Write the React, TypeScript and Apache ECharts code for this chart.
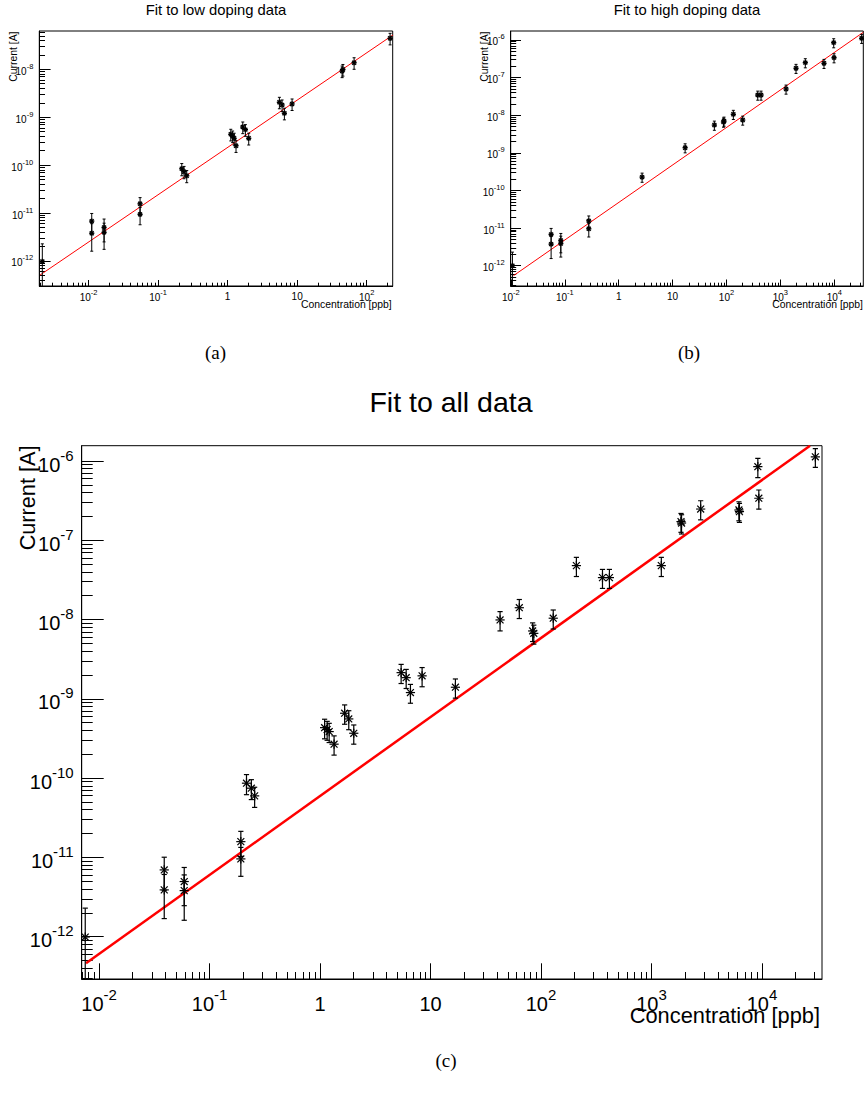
import React, { useEffect, useRef } from "react";
import * as echarts from "echarts";

// ---------- Panel (a): fit to low doping data ----------
const lowConc = [0.00216, 0.0111, 0.0111, 0.0167, 0.0167, 0.055, 0.055, 0.219, 0.236, 0.258, 1.11, 1.18, 1.24, 1.32, 1.65, 1.8, 2.01, 5.55, 6.07, 6.55, 8.45, 44.3, 45.5, 65.9, 217];
const lowCurrent = [9.8e-13, 6.8e-12, 3.8e-12, 5.0e-12, 3.95e-12, 1.56e-11, 9.4e-12, 8.4e-11, 7.3e-11, 6.0e-11, 4.4e-10, 4.05e-10, 3.63e-10, 2.54e-10, 6.24e-10, 5.5e-10, 3.63e-10, 2.05e-9, 1.8e-9, 1.21e-9, 1.89e-9, 9.2e-9, 9.9e-9, 1.37e-8, 4.43e-8];
const lowError = [1.3e-12, 3.0e-12, 2.2e-12, 2.5e-12, 2.2e-12, 5.4e-12, 3.7e-12, 2.4e-11, 2.1e-11, 1.7e-11, 1.2e-10, 1.1e-10, 1.0e-10, 7.0e-11, 1.7e-10, 1.5e-10, 1.0e-10, 5.5e-10, 4.9e-10, 3.3e-10, 5.1e-10, 2.5e-9, 2.7e-9, 3.7e-9, 1.2e-8];
const lowFitConc = [0.002, 238];
const lowFitCurrent = [5.08e-13, 5.19e-8];

// ---------- Panel (b): fit to high doping data ----------
const highConc = [0.0107, 0.0558, 0.0558, 0.0845, 0.0845, 0.279, 0.279, 2.72, 17.1, 59.6, 88, 90.1, 134, 200, 380, 438, 1274, 1950, 2900, 6440, 9750, 9890, 32200];
const highCurrent = [1.0e-12, 6.8e-12, 3.75e-12, 4.7e-12, 3.9e-12, 1.56e-11, 9.6e-12, 2.27e-10, 1.37e-9, 5.48e-9, 6.6e-9, 7.0e-9, 1.06e-8, 7.45e-9, 3.44e-8, 3.44e-8, 4.98e-8, 1.77e-7, 2.5e-7, 2.4e-7, 8.5e-7, 3.39e-7, 1.11e-6];
const highError = [1.3e-12, 3.0e-12, 2.2e-12, 2.5e-12, 2.2e-12, 5.4e-12, 3.8e-12, 6.2e-11, 3.7e-10, 1.5e-9, 1.8e-9, 1.9e-9, 2.9e-9, 2.0e-9, 9.3e-9, 9.3e-9, 1.35e-8, 4.8e-8, 6.8e-8, 6.5e-8, 2.3e-7, 9.2e-8, 3.0e-7];
const highFitConc = [0.01117, 34500];
const highFitCurrent = [5.43e-13, 1.6e-6];

// ---------- Panel (c): fit to all data ----------
const allConc = [0.0075, 0.0389, 0.0389, 0.059, 0.059, 0.192, 0.192, 0.216, 0.239, 0.256, 1.1, 1.16, 1.21, 1.34, 1.67, 1.82, 2.02, 5.42, 6.02, 6.58, 8.39, 16.8, 42.6, 63.6, 84, 86, 129, 209, 360, 416, 1227, 1849, 1870, 2786, 6180, 6250, 9170, 9360, 30400];
const allCurrent = [9.9e-13, 6.95e-12, 3.89e-12, 4.96e-12, 3.81e-12, 1.58e-11, 9.57e-12, 8.63e-11, 7.46e-11, 5.97e-11, 4.33e-10, 4.1e-10, 3.86e-10, 2.68e-10, 6.58e-10, 5.58e-10, 3.68e-10, 2.14e-9, 1.85e-9, 1.2e-9, 1.95e-9, 1.4e-9, 9.89e-9, 1.41e-8, 7.18e-9, 6.7e-9, 1.04e-8, 4.79e-8, 3.38e-8, 3.38e-8, 4.79e-8, 1.72e-7, 1.65e-7, 2.48e-7, 2.41e-7, 2.3e-7, 8.47e-7, 3.39e-7, 1.13e-6];
const allError = [1.3e-12, 3.1e-12, 2.2e-12, 2.5e-12, 2.2e-12, 5.5e-12, 3.8e-12, 2.45e-11, 2.1e-11, 1.7e-11, 1.2e-10, 1.1e-10, 1.05e-10, 7.3e-11, 1.8e-10, 1.5e-10, 1.0e-10, 5.8e-10, 5.0e-10, 3.2e-10, 5.3e-10, 3.8e-10, 2.7e-9, 3.8e-9, 1.9e-9, 1.8e-9, 2.8e-9, 1.3e-8, 9.1e-9, 9.1e-9, 1.3e-8, 4.6e-8, 4.5e-8, 6.7e-8, 6.5e-8, 6.2e-8, 2.3e-7, 9.2e-8, 3.0e-7];
const allFitConc = [0.00762, 27200];
const allFitCurrent = [4.61e-13, 1.56e-6];

// ---------- tick labels (decade exponents) ----------
const lowXDecades = [-2, -1, 0, 1, 2];
const lowYDecades = [-12, -11, -10, -9, -8];
const highXDecades = [-2, -1, 0, 1, 2, 3, 4];
const highYDecades = [-12, -11, -10, -9, -8, -7, -6];
const allXDecades = [-2, -1, 0, 1, 2, 3, 4];
const allYDecades = [-12, -11, -10, -9, -8, -7, -6];

const titles = ["Fit to low doping data", "Fit to high doping data", "Fit to all data"];
const captions = ["(a)", "(b)", "(c)"];
const xTitle = "Concentration [ppb]";
const yTitle = "Current [A]";

const FONT = '"Liberation Sans", Arial, Helvetica, sans-serif';
const SERIF = '"Liberation Serif", "Times New Roman", serif';

const L = (v: number) => Math.log10(v);

function minorValues(range: [number, number]): number[] {
  const out: number[] = [];
  for (let n = Math.floor(range[0]) - 1; n <= Math.ceil(range[1]); n++) {
    for (let k = 2; k <= 9; k++) {
      const v = n + Math.log10(k);
      if (v > range[0] && v < range[1]) out.push(v);
    }
  }
  return out;
}

type PanelCfg = {
  grid: { left: number; top: number; width: number; height: number };
  xRange: [number, number];
  yRange: [number, number];
  xDec: number[];
  yDec: number[];
  conc: number[];
  cur: number[];
  err: number[];
  fitConc: number[];
  fitCur: number[];
  xMajor: number;
  xMinor: number;
  yMajor: number;
  yMinor: number;
  base: number;
  sup: number;
  supPad: number;
  baseLH: number;
  xMargin: number;
  yMargin: number;
  star: number;
  cap: number;
  lw: number;
  starLw: number;
  fitWidth: number;
};

const panels: PanelCfg[] = [
  {
    grid: { left: 39.3, top: 31, width: 353.4, height: 255 },
    xRange: [-2.709, 2.374],
    yRange: [-12.522, -7.201],
    xDec: lowXDecades,
    yDec: lowYDecades,
    conc: lowConc,
    cur: lowCurrent,
    err: lowError,
    fitConc: lowFitConc,
    fitCur: lowFitCurrent,
    xMajor: 6,
    xMinor: 3.3,
    yMajor: 11.3,
    yMinor: 5.7,
    base: 10,
    sup: 7.5,
    supPad: 6,
    baseLH: 13.5,
    xMargin: 2,
    yMargin: 6,
    star: 2.6,
    cap: 1.5,
    lw: 1,
    starLw: 1.4,
    fitWidth: 1,
  },
  {
    grid: { left: 510.7, top: 31, width: 352.6, height: 255 },
    xRange: [-2.003, 4.538],
    yRange: [-12.539, -5.761],
    xDec: highXDecades,
    yDec: highYDecades,
    conc: highConc,
    cur: highCurrent,
    err: highError,
    fitConc: highFitConc,
    fitCur: highFitCurrent,
    xMajor: 6.5,
    xMinor: 3.3,
    yMajor: 10.3,
    yMinor: 5.5,
    base: 10,
    sup: 7.5,
    supPad: 6,
    baseLH: 13.5,
    xMargin: 2,
    yMargin: 6,
    star: 2.6,
    cap: 1.5,
    lw: 1,
    starLw: 1.4,
    fitWidth: 1,
  },
  {
    grid: { left: 81.7, top: 445.7, width: 740.3, height: 533.3 },
    xRange: [-2.157, 4.543],
    yRange: [-12.534, -5.807],
    xDec: allXDecades,
    yDec: allYDecades,
    conc: allConc,
    cur: allCurrent,
    err: allError,
    fitConc: allFitConc,
    fitCur: allFitCurrent,
    xMajor: 15.7,
    xMinor: 7,
    yMajor: 22,
    yMinor: 11,
    base: 20,
    sup: 15,
    supPad: 12,
    baseLH: 27,
    xMargin: 8,
    yMargin: 8,
    star: 4.6,
    cap: 2.6,
    lw: 1.2,
    starLw: 1.2,
    fitWidth: 2.5,
  },
];

const xFormatter = (v: number) => {
  const n = Math.round(v);
  if (Math.abs(v - n) > 1e-6) return "";
  if (n === 0) return "{b|1}";
  if (n === 1) return "{b|10}";
  return `{b|10}{s|${n}}`;
};
const yFormatter = (v: number) => {
  const n = Math.round(v);
  if (Math.abs(v - n) > 1e-6) return "";
  return `{b|10}{s|${n}}`;
};

function makeRender(p: PanelCfg) {
  return (params: any, api: any) => {
    const cs = params.coordSys;
    const top = cs.y;
    const bottom = cs.y + cs.height;
    const xv = api.value(0);
    const c = api.coord([xv, api.value(1)]);
    const hiP = api.coord([xv, api.value(2)]);
    const loP = api.coord([xv, api.value(3)]);
    const x = c[0];
    const y = c[1];
    const yHi = Math.max(hiP[1], top);
    const yLo = Math.min(loP[1], bottom);
    const st = { stroke: "#000", lineWidth: p.lw };
    const ss = { stroke: "#000", lineWidth: p.starLw };
    const s = p.star;
    const d = s * 0.75;
    const children: any[] = [
      { type: "line", shape: { x1: x, y1: yHi, x2: x, y2: yLo }, style: st },
    ];
    if (hiP[1] >= top) children.push({ type: "line", shape: { x1: x - p.cap, y1: yHi, x2: x + p.cap, y2: yHi }, style: st });
    if (loP[1] <= bottom) children.push({ type: "line", shape: { x1: x - p.cap, y1: yLo, x2: x + p.cap, y2: yLo }, style: st });
    children.push({ type: "line", shape: { x1: x - s, y1: y, x2: x + s, y2: y }, style: ss });
    children.push({ type: "line", shape: { x1: x, y1: y - s, x2: x, y2: y + s }, style: ss });
    children.push({ type: "line", shape: { x1: x - d, y1: y - d, x2: x + d, y2: y + d }, style: ss });
    children.push({ type: "line", shape: { x1: x - d, y1: y + d, x2: x + d, y2: y - d }, style: ss });
    return { type: "group", children };
  };
}

function buildOption() {
  const grid: any[] = [];
  const xAxis: any[] = [];
  const yAxis: any[] = [];
  const series: any[] = [];

  panels.forEach((p, i) => {
    grid.push({ ...p.grid, show: true, borderColor: "#000", borderWidth: 1, backgroundColor: "transparent", containLabel: false });
    const rich = {
      b: { fontSize: p.base, lineHeight: p.baseLH, fontFamily: FONT, color: "#000", verticalAlign: "bottom" },
      s: { fontSize: p.sup, fontFamily: FONT, color: "#000", verticalAlign: "bottom", padding: [0, 0, p.supPad, 0] },
    };
    xAxis.push({
      type: "value",
      gridIndex: i,
      position: "bottom",
      min: p.xRange[0],
      max: p.xRange[1],
      minInterval: 1,
      maxInterval: 1,
      axisLine: { show: true, onZero: false, lineStyle: { color: "#000", width: 1 } },
      axisTick: { show: true, inside: true, length: p.xMajor, customValues: p.xDec, lineStyle: { color: "#000", width: 1 } },
      axisLabel: { show: true, customValues: p.xDec, formatter: xFormatter, rich, margin: p.xMargin, color: "#000" },
      splitLine: { show: false },
    });
    xAxis.push({
      type: "value",
      gridIndex: i,
      position: "bottom",
      min: p.xRange[0],
      max: p.xRange[1],
      axisLine: { show: false, onZero: false },
      axisTick: { show: true, inside: true, length: p.xMinor, customValues: minorValues(p.xRange), lineStyle: { color: "#000", width: 1 } },
      axisLabel: { show: false },
      splitLine: { show: false },
    });
    yAxis.push({
      type: "value",
      gridIndex: i,
      position: "left",
      min: p.yRange[0],
      max: p.yRange[1],
      minInterval: 1,
      maxInterval: 1,
      axisLine: { show: true, onZero: false, lineStyle: { color: "#000", width: 1 } },
      axisTick: { show: true, inside: true, length: p.yMajor, customValues: p.yDec, lineStyle: { color: "#000", width: 1 } },
      axisLabel: { show: true, customValues: p.yDec, formatter: yFormatter, rich, margin: p.yMargin, color: "#000" },
      splitLine: { show: false },
    });
    yAxis.push({
      type: "value",
      gridIndex: i,
      position: "left",
      min: p.yRange[0],
      max: p.yRange[1],
      axisLine: { show: false, onZero: false },
      axisTick: { show: true, inside: true, length: p.yMinor, customValues: minorValues(p.yRange), lineStyle: { color: "#000", width: 1 } },
      axisLabel: { show: false },
      splitLine: { show: false },
    });

    series.push({
      type: "line",
      xAxisIndex: 2 * i,
      yAxisIndex: 2 * i,
      data: p.fitConc.map((c, k) => [L(c), L(p.fitCur[k])]),
      showSymbol: false,
      symbol: "none",
      lineStyle: { color: "#ff0000", width: p.fitWidth },
      clip: true,
      z: 3,
    });
    series.push({
      type: "custom",
      xAxisIndex: 2 * i,
      yAxisIndex: 2 * i,
      clip: true,
      dimensions: ["x", "y", "hi", "lo"],
      encode: { x: 0, y: 1 },
      data: p.conc.map((c, k) => {
        const y = p.cur[k];
        const e = p.err[k];
        return [L(c), L(y), L(y + e), y - e > 0 ? L(y - e) : -99];
      }),
      renderItem: makeRender(p),
      z: 4,
    });
  });

  const title = [
    { text: titles[0], left: 216, top: 10, textAlign: "center", textVerticalAlign: "middle", padding: 0, textStyle: { fontSize: 14.8, fontWeight: "normal", color: "#000", fontFamily: FONT } },
    { text: titles[1], left: 687, top: 10, textAlign: "center", textVerticalAlign: "middle", padding: 0, textStyle: { fontSize: 14.8, fontWeight: "normal", color: "#000", fontFamily: FONT } },
    { text: titles[2], left: 451, top: 401.5, textAlign: "center", textVerticalAlign: "middle", padding: 0, textStyle: { fontSize: 28.5, fontWeight: "normal", color: "#000", fontFamily: FONT } },
  ];

  const txt = (text: string, x: number, y: number, size: number, align: string, rot = 0, family = FONT) => ({
    type: "text",
    x,
    y,
    rotation: rot,
    style: { text, fontSize: size, fontFamily: family, fill: "#000", align, verticalAlign: "middle" },
    z: 10,
  });

  const graphic = [
    txt(yTitle, 13.8, 31.5, 10.4, "right", Math.PI / 2),
    txt(xTitle, 391.7, 304.5, 10.4, "right"),
    txt(yTitle, 484.4, 31.5, 10.4, "right", Math.PI / 2),
    txt(xTitle, 863, 304.5, 10.4, "right"),
    txt(yTitle, 27.3, 445.5, 21.7, "right", Math.PI / 2),
    txt(xTitle, 820, 1015.5, 21.8, "right"),
    txt(captions[0], 215.5, 352.5, 19, "center", 0, SERIF),
    txt(captions[1], 689, 352.5, 19, "center", 0, SERIF),
    txt(captions[2], 446, 1060, 19, "center", 0, SERIF),
  ];

  return {
    animation: false,
    backgroundColor: "#fff",
    title,
    grid,
    xAxis,
    yAxis,
    series,
    graphic,
  };
}

export default function App() {
  const ref = useRef<HTMLDivElement>(null);
  useEffect(() => {
    if (!ref.current) return;
    const chart = echarts.init(ref.current, undefined, { renderer: "svg" });
    chart.setOption(buildOption() as any);
    return () => chart.dispose();
  }, []);
  return (
    <div
      ref={ref}
      style={{ position: "absolute", left: 0, top: 0, width: 864, height: 1095, background: "#fff" }}
    />
  );
}
